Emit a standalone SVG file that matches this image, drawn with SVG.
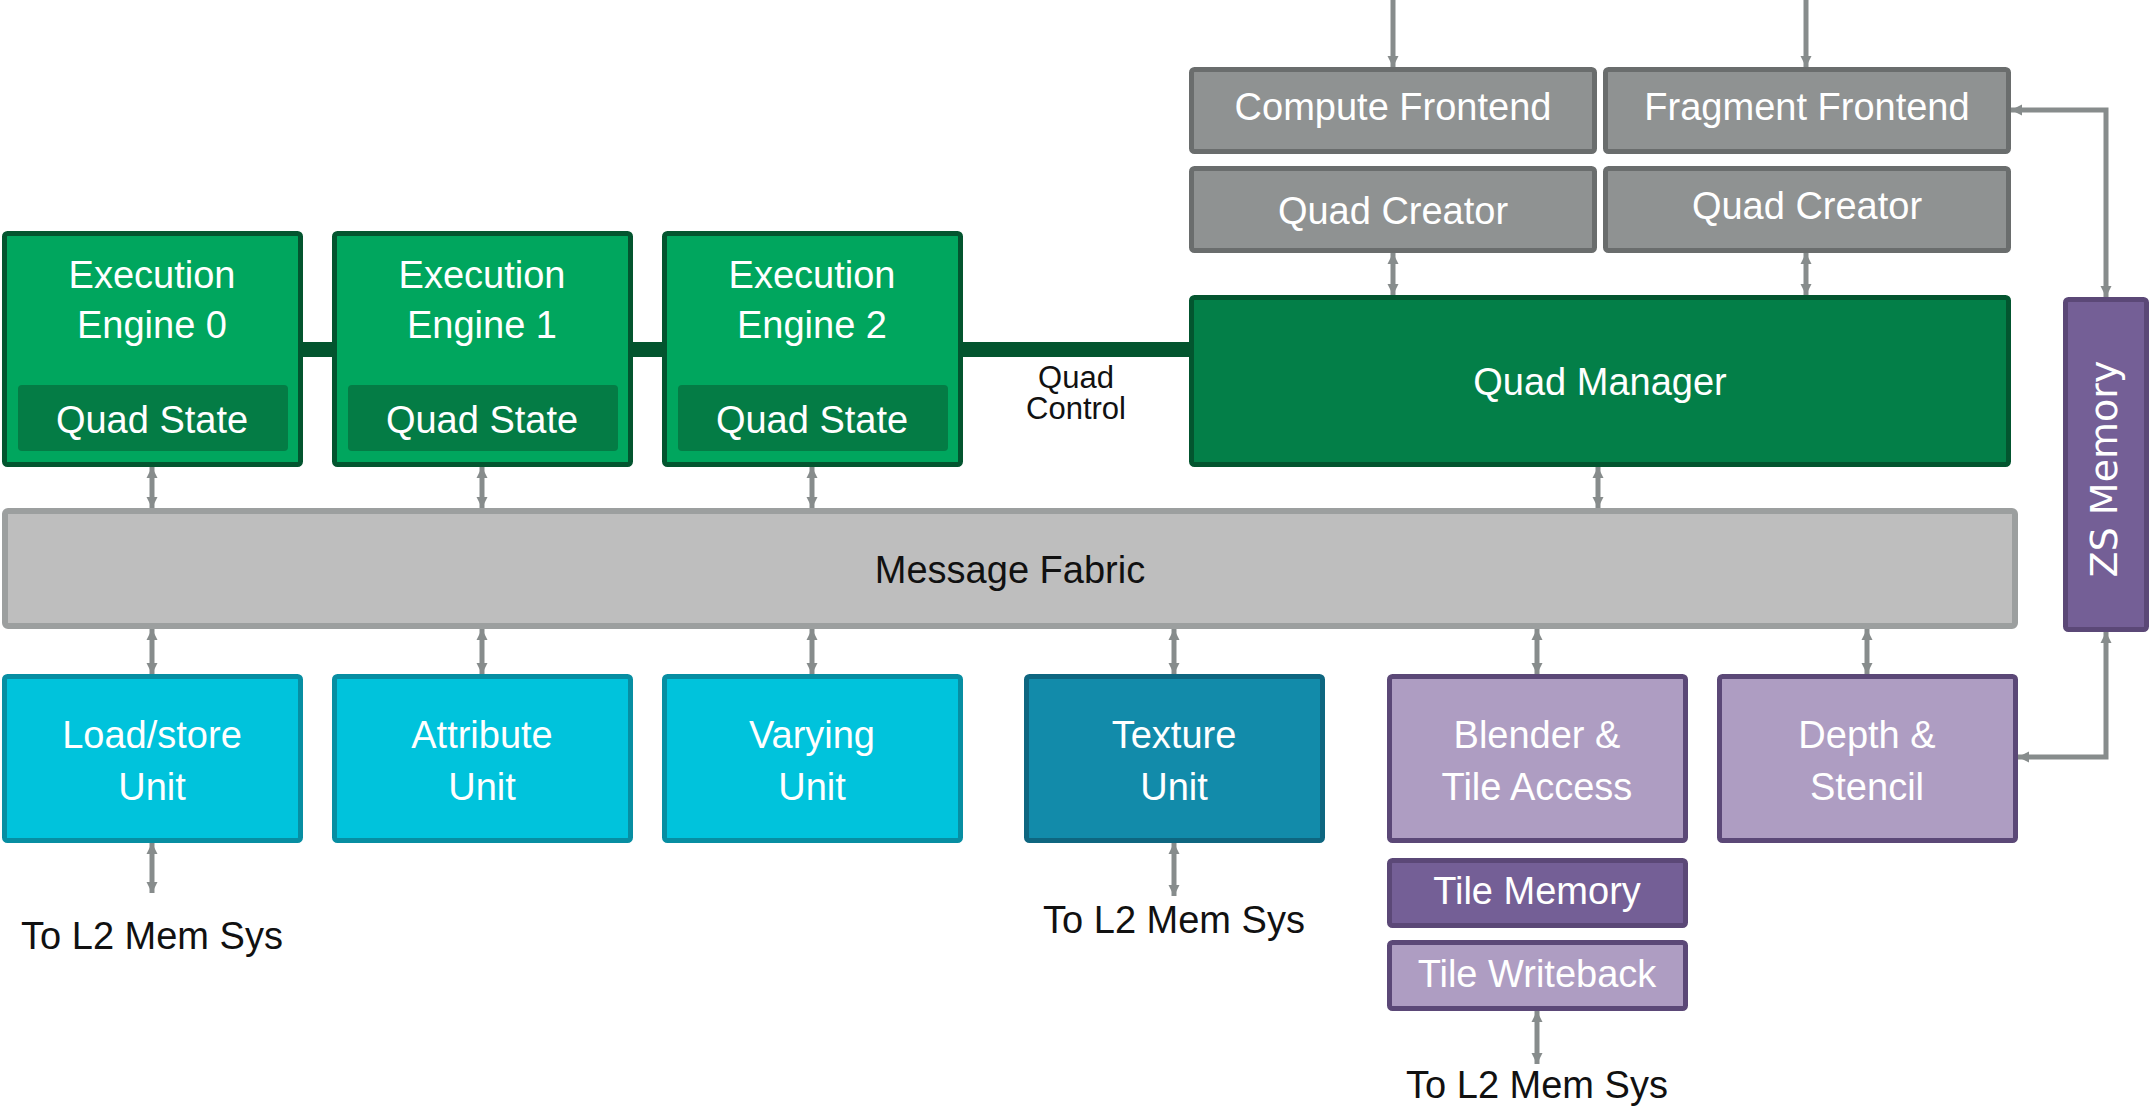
<svg xmlns="http://www.w3.org/2000/svg" width="2151" height="1109" viewBox="0 0 2151 1109">
<style>
text{font-family:"Liberation Sans",Arial,sans-serif;font-size:38px;text-anchor:middle;fill:#ffffff}
.dk{fill:#111111}
.ee{fill:#00A65E;stroke:#03552F;stroke-width:5}
.qs{fill:#047C45}
.qm{fill:#037F48;stroke:#03552F;stroke-width:5}
.gr{fill:#8F9292;stroke:#6A6D6D;stroke-width:5}
.fab{fill:#BEBEBE;stroke:#9C9F9F;stroke-width:6}
.cy{fill:#00C3DC;stroke:#078EA2;stroke-width:5}
.tx{fill:#128BAA;stroke:#0E6680;stroke-width:5}
.lp{fill:#AE9DC2;stroke:#5B4877;stroke-width:5}
.dp{fill:#745F96;stroke:#5B4877;stroke-width:5}
.bar{fill:#03552F}
.cn{fill:none;stroke:#878C8C;stroke-width:5}
</style>
<defs>
<marker id="ah" viewBox="0 0 10 10" refX="10" refY="5" markerWidth="11" markerHeight="18" markerUnits="userSpaceOnUse" orient="auto-start-reverse">
<path d="M0,0 L10,5 L0,10 z" fill="#878C8C"/>
</marker>
</defs>
<rect width="2151" height="1109" fill="#ffffff"/>

<g id="connectors">
<rect class="bar" x="300" y="342" width="35" height="15"/>
<rect class="bar" x="630" y="342" width="35" height="15"/>
<rect class="bar" x="960" y="342" width="232" height="15"/>
<line class="cn" x1="1393" y1="0" x2="1393" y2="67" marker-end="url(#ah)"/>
<line class="cn" x1="1806" y1="0" x2="1806" y2="67" marker-end="url(#ah)"/>
<line class="cn" x1="1393" y1="253" x2="1393" y2="295" marker-start="url(#ah)" marker-end="url(#ah)"/>
<line class="cn" x1="1806" y1="253" x2="1806" y2="295" marker-start="url(#ah)" marker-end="url(#ah)"/>
<line class="cn" x1="152" y1="467" x2="152" y2="508" marker-start="url(#ah)" marker-end="url(#ah)"/>
<line class="cn" x1="482" y1="467" x2="482" y2="508" marker-start="url(#ah)" marker-end="url(#ah)"/>
<line class="cn" x1="812" y1="467" x2="812" y2="508" marker-start="url(#ah)" marker-end="url(#ah)"/>
<line class="cn" x1="1598" y1="467" x2="1598" y2="508" marker-start="url(#ah)" marker-end="url(#ah)"/>
<line class="cn" x1="152" y1="629" x2="152" y2="674" marker-start="url(#ah)" marker-end="url(#ah)"/>
<line class="cn" x1="482" y1="629" x2="482" y2="674" marker-start="url(#ah)" marker-end="url(#ah)"/>
<line class="cn" x1="812" y1="629" x2="812" y2="674" marker-start="url(#ah)" marker-end="url(#ah)"/>
<line class="cn" x1="1174" y1="629" x2="1174" y2="674" marker-start="url(#ah)" marker-end="url(#ah)"/>
<line class="cn" x1="1537" y1="629" x2="1537" y2="674" marker-start="url(#ah)" marker-end="url(#ah)"/>
<line class="cn" x1="1867" y1="629" x2="1867" y2="674" marker-start="url(#ah)" marker-end="url(#ah)"/>
<line class="cn" x1="152" y1="843" x2="152" y2="893" marker-start="url(#ah)" marker-end="url(#ah)"/>
<line class="cn" x1="1174" y1="843" x2="1174" y2="896" marker-start="url(#ah)" marker-end="url(#ah)"/>
<line class="cn" x1="1537" y1="1011" x2="1537" y2="1064" marker-start="url(#ah)" marker-end="url(#ah)"/>
<path class="cn" d="M2011,110 H2106 V297" marker-start="url(#ah)" marker-end="url(#ah)"/>
<path class="cn" d="M2106,632 V757 H2018" marker-start="url(#ah)" marker-end="url(#ah)"/>
</g>

<g id="ee0">
<rect class="ee" x="4.5" y="233.5" width="296" height="231" rx="3"/>
<rect class="qs" x="18" y="385" width="270" height="66" rx="4"/>
<text x="152" y="288">Execution</text>
<text x="152" y="338">Engine 0</text>
<text x="152" y="433">Quad State</text>
</g>
<g id="ee1">
<rect class="ee" x="334.5" y="233.5" width="296" height="231" rx="3"/>
<rect class="qs" x="348" y="385" width="270" height="66" rx="4"/>
<text x="482" y="288">Execution</text>
<text x="482" y="338">Engine 1</text>
<text x="482" y="433">Quad State</text>
</g>
<g id="ee2">
<rect class="ee" x="664.5" y="233.5" width="296" height="231" rx="3"/>
<rect class="qs" x="678" y="385" width="270" height="66" rx="4"/>
<text x="812" y="288">Execution</text>
<text x="812" y="338">Engine 2</text>
<text x="812" y="433">Quad State</text>
</g>
<g id="quad-control-label">
<text class="dk" x="1076" y="388" style="font-size:31px">Quad</text>
<text class="dk" x="1076" y="419" style="font-size:31px">Control</text>
</g>
<g id="compute-frontend">
<rect class="gr" x="1191.5" y="69.5" width="403" height="82" rx="3"/>
<text x="1393" y="120">Compute Frontend</text>
</g>
<g id="fragment-frontend">
<rect class="gr" x="1605.5" y="69.5" width="403" height="82" rx="3"/>
<text x="1807" y="120">Fragment Frontend</text>
</g>
<g id="quad-creator-compute">
<rect class="gr" x="1191.5" y="168.5" width="403" height="82" rx="3"/>
<text x="1393" y="224">Quad Creator</text>
</g>
<g id="quad-creator-fragment">
<rect class="gr" x="1605.5" y="168.5" width="403" height="82" rx="3"/>
<text x="1807" y="219">Quad Creator</text>
</g>
<g id="quad-manager">
<rect class="qm" x="1191.5" y="297.5" width="817" height="167" rx="3"/>
<text x="1600" y="395">Quad Manager</text>
</g>
<g id="zs-memory">
<rect class="dp" x="2065.5" y="299.5" width="81" height="330" rx="3"/>
<text transform="translate(2117,469) rotate(-90)" style="font-family:'DejaVu Sans',sans-serif;font-size:38px">ZS Memory</text>
</g>
<g id="message-fabric">
<rect class="fab" x="5" y="511" width="2010" height="115" rx="3"/>
<text class="dk" x="1010" y="583">Message Fabric</text>
</g>
<g id="load-store">
<rect class="cy" x="4.5" y="676.5" width="296" height="164" rx="3"/>
<text x="152" y="748">Load/store</text>
<text x="152" y="800">Unit</text>
</g>
<g id="attribute">
<rect class="cy" x="334.5" y="676.5" width="296" height="164" rx="3"/>
<text x="482" y="748">Attribute</text>
<text x="482" y="800">Unit</text>
</g>
<g id="varying">
<rect class="cy" x="664.5" y="676.5" width="296" height="164" rx="3"/>
<text x="812" y="748">Varying</text>
<text x="812" y="800">Unit</text>
</g>
<g id="texture">
<rect class="tx" x="1026.5" y="676.5" width="296" height="164" rx="3"/>
<text x="1174" y="748">Texture</text>
<text x="1174" y="800">Unit</text>
</g>
<g id="blender">
<rect class="lp" x="1389.5" y="676.5" width="296" height="164" rx="3"/>
<text x="1537" y="748">Blender &amp;</text>
<text x="1537" y="800">Tile Access</text>
</g>
<g id="depth">
<rect class="lp" x="1719.5" y="676.5" width="296" height="164" rx="3"/>
<text x="1867" y="748">Depth &amp;</text>
<text x="1867" y="800">Stencil</text>
</g>
<g id="tile-memory">
<rect class="dp" x="1389.5" y="860.5" width="296" height="65" rx="3"/>
<text x="1537" y="904">Tile Memory</text>
</g>
<g id="tile-writeback">
<rect class="lp" x="1389.5" y="942.5" width="296" height="66" rx="3"/>
<text x="1537" y="987">Tile Writeback</text>
</g>
<g id="l2-labels">
<text class="dk" x="152" y="949">To L2 Mem Sys</text>
<text class="dk" x="1174" y="933">To L2 Mem Sys</text>
<text class="dk" x="1537" y="1098">To L2 Mem Sys</text>
</g>
</svg>
